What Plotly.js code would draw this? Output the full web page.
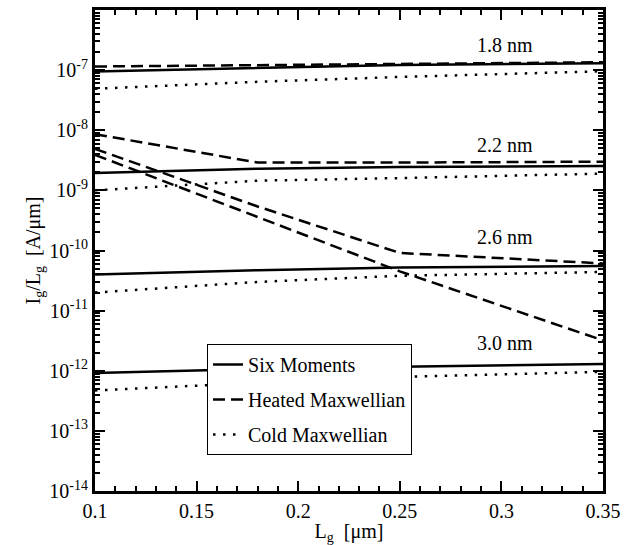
<!DOCTYPE html>
<html>
<head>
<meta charset="utf-8">
<title>Ig/Lg versus Lg</title>
<script src="https://cdn.plot.ly/plotly-3.0.1.min.js"></script>
<style>html,body{margin:0;padding:0;background:#fff;}#plot{width:642px;height:545px;}</style>
</head>
<body>
<div id="plot"></div>
<script>
var SERIF = '"Liberation Serif", "Times New Roman", serif';

// Gate length [um]
var gateLength = [0.10, 0.18, 0.25, 0.35];

// Oxide thickness labels
var oxideLabels = ['1.8 nm', '2.2 nm', '2.6 nm', '3.0 nm'];

// Six Moments model [A/um]
var sixMoments18 = [9.5e-8, 1.1e-7, 1.22e-7, 1.3e-7];
var sixMoments22 = [1.95e-9, 2.3e-9, 2.45e-9, 2.55e-9];
var sixMoments26 = [4.0e-11, 4.7e-11, 5.2e-11, 5.5e-11];
var sixMoments30 = [9.2e-13, 1.07e-12, 1.17e-12, 1.3e-12];

// Heated Maxwellian model [A/um]
var heated18 = [1.15e-7, 1.2e-7, 1.28e-7, 1.35e-7];
var heated22 = [8.6e-9, 2.9e-9, 2.9e-9, 3.0e-9];
var heated26 = [4.9e-9, 5.4e-10, 9.1e-11, 6.1e-11];
var heated30 = [3.9e-9, 3.6e-10, 4.5e-11, 3.2e-12];

// Cold Maxwellian model [A/um]
var cold18 = [4.9e-8, 6.4e-8, 7.7e-8, 9.6e-8];
var cold22 = [1.0e-9, 1.45e-9, 1.6e-9, 1.9e-9];
var cold26 = [2.0e-11, 3.0e-11, 3.8e-11, 4.4e-11];
var cold30 = [4.7e-13, 6.3e-13, 7.9e-13, 9.6e-13];

// Tick labels
var yTickVals = [1e-14, 1e-13, 1e-12, 1e-11, 1e-10, 1e-9, 1e-8, 1e-7, 1e-6];
var yTickText = ['10<sup>-14</sup>', '10<sup>-13</sup>', '10<sup>-12</sup>', '10<sup>-11</sup>',
  '10<sup>-10</sup>', '10<sup>-9</sup>', '10<sup>-8</sup>', '10<sup>-7</sup>', '10<sup>-6</sup>'];

// Minor tick positions (axis furniture)
var yMinorVals = [];
for (var e = -14; e < -6; e++) { for (var d = 2; d <= 9; d++) yMinorVals.push(d * Math.pow(10, e)); }
var xMinorVals = [];
for (var k = 0; k <= 25; k++) { if (k % 5 !== 0) xMinorVals.push(+(0.1 + k * 0.01).toFixed(2)); }

var modelDefs = [
  {name: 'Six Moments', dash: 'solid', sets: [sixMoments18, sixMoments22, sixMoments26, sixMoments30]},
  {name: 'Heated Maxwellian', dash: '12px,6px', sets: [heated18, heated22, heated26, heated30]},
  {name: 'Cold Maxwellian', dash: '2.5px,7.5px', sets: [cold18, cold22, cold26, cold30]}
];

var data = [];
modelDefs.forEach(function (m, mi) {
  m.sets.forEach(function (ys, ti) {
    data.push({
      x: gateLength, y: ys, type: 'scatter', mode: 'lines',
      name: m.name, legendgroup: 'm' + mi, showlegend: ti === 0,
      line: {color: '#000', width: 2.5, dash: m.dash}
    });
  });
});

var labelLogY = [-6.58, -8.25, -9.78, -11.54];
var notes = oxideLabels.map(function (t, i) {
  return {x: 0.302, y: labelLogY[i], xref: 'x', yref: 'y', text: t, showarrow: false,
    font: {family: SERIF, size: 20, color: '#000'}};
});

var layout = {
  width: 642, height: 545,
  margin: {l: 95, r: 39, t: 10, b: 54},
  paper_bgcolor: '#fff', plot_bgcolor: '#fff',
  font: {family: SERIF, size: 20, color: '#000'},
  showlegend: true,
  legend: {
    x: 0.2205, y: 0.3056, xanchor: 'left', yanchor: 'top',
    bgcolor: '#fff', bordercolor: '#000', borderwidth: 1,
    font: {family: SERIF, size: 20, color: '#000'},
    tracegroupgap: 6
  },
  xaxis: {
    range: [0.1, 0.35], tick0: 0.1, dtick: 0.05,
    showgrid: false, zeroline: false,
    showline: true, linewidth: 3, linecolor: '#000', mirror: 'allticks',
    ticks: 'inside', ticklen: 10, tickwidth: 2, tickcolor: '#000',
    minor: {tickmode: 'array', tickvals: xMinorVals, ticks: 'inside', ticklen: 5, tickwidth: 2, tickcolor: '#000', showgrid: false},
    tickfont: {family: SERIF, size: 20},
    title: {text: 'L<sub>g</sub>&nbsp; [μm]', font: {family: SERIF, size: 20}, standoff: 4}
  },
  yaxis: {
    type: 'log', range: [-14, -6],
    tickmode: 'array', tickvals: yTickVals, ticktext: yTickText,
    showgrid: false, zeroline: false,
    showline: true, linewidth: 3, linecolor: '#000', mirror: 'allticks',
    ticks: 'inside', ticklen: 10, tickwidth: 2, tickcolor: '#000',
    minor: {tickmode: 'array', tickvals: yMinorVals, ticks: 'inside', ticklen: 5, tickwidth: 2, tickcolor: '#000', showgrid: false},
    tickfont: {family: SERIF, size: 20},
    title: {text: 'I<sub>g</sub>/L<sub>g</sub>&nbsp; [A/μm]', font: {family: SERIF, size: 20}}
  },
  annotations: notes
};

Plotly.newPlot('plot', data, layout, {displayModeBar: false, staticPlot: true});
</script>
</body>
</html>
